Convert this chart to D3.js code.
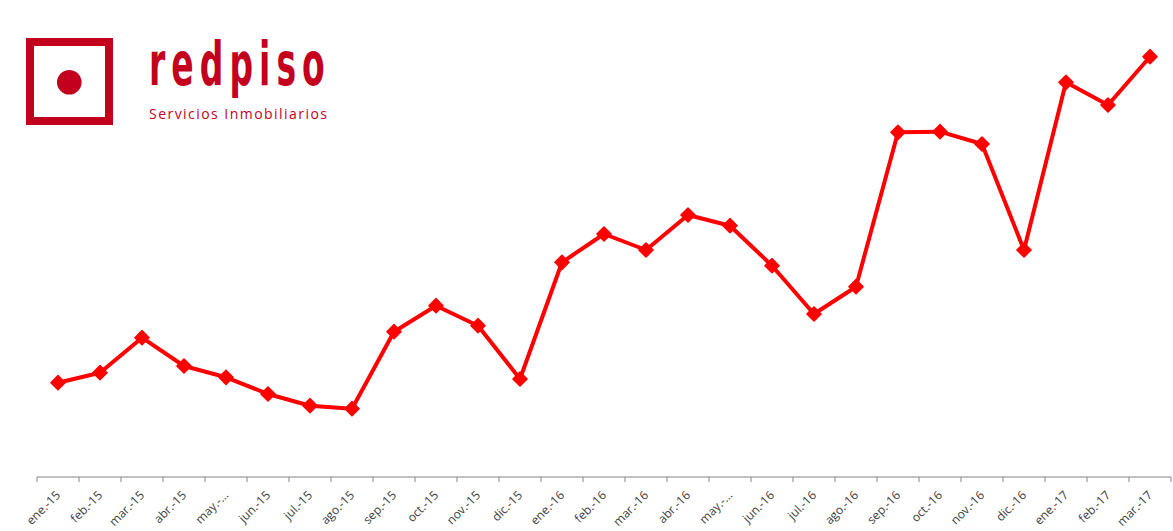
<!DOCTYPE html>
<html>
<head>
<meta charset="utf-8">
<script src="https://cdn.jsdelivr.net/npm/d3@7/dist/d3.min.js"></script>
<style>
  html, body { margin: 0; padding: 0; background: #fff; }
  svg { display: block; }
</style>
</head>
<body>
<svg id="chart" width="1173" height="531"></svg>
<script>
const categories = ["ene.-15","feb.-15","mar.-15","abr.-15","may.-15","jun.-15","jul.-15","ago.-15","sep.-15","oct.-15","nov.-15","dic.-15",
  "ene.-16","feb.-16","mar.-16","abr.-16","may.-16","jun.-16","jul.-16","ago.-16","sep.-16","oct.-16","nov.-16","dic.-16",
  "ene.-17","feb.-17","mar.-17"];
const tickLabels = ["ene.-15","feb.-15","mar.-15","abr.-15","may.-…","jun.-15","jul.-15","ago.-15","sep.-15","oct.-15","nov.-15","dic.-15",
  "ene.-16","feb.-16","mar.-16","abr.-16","may.-…","jun.-16","jul.-16","ago.-16","sep.-16","oct.-16","nov.-16","dic.-16",
  "ene.-17","feb.-17","mar.-17"];
const values = [94.3,104.3,139.3,111,99.7,83,71.3,68.3,145.3,171.3,151.3,98,
  214.7,243,227,262,251.3,211.3,163,190.3,344.7,345.3,333,227,
  394.7,372,420.3];

(function () {
const svg = d3.select("#chart");
const mLeft = 37, mRight = 1171, mBottom = 477, mTop = 57;

const x = d3.scaleBand().domain(categories).range([mLeft, mRight]).padding(0);
const y = d3.scaleLinear().domain([0, 420]).range([mBottom, mTop]);

// axis
const axisG = svg.append("g").attr("transform", `translate(0,${mBottom})`);
axisG.append("line").attr("x1", mLeft).attr("x2", mRight).attr("y1", 0).attr("y2", 0)
  .attr("stroke", "#868686").attr("stroke-width", 1);
const bounds = categories.map(c => x(c)).concat([mRight]);
axisG.selectAll("line.tick").data(bounds).enter().append("line")
  .attr("class", "tick")
  .attr("x1", d => d).attr("x2", d => d).attr("y1", 0).attr("y2", 5)
  .attr("stroke", "#868686").attr("stroke-width", 1);
axisG.selectAll("text").data(categories).enter().append("text")
  .attr("transform", (d) => `translate(${x(d) + x.bandwidth()/2 + 3},19) rotate(-45)`)
  .attr("text-anchor", "end")
  .attr("font-family", "'Open Sans', 'Noto Sans', sans-serif")
  .attr("font-size", 12)
  .attr("fill", "#404040")
  .text((d, i) => tickLabels[i]);

// line
const line = d3.line().x((d, i) => x(categories[i]) + x.bandwidth()/2).y(d => y(d));
svg.append("path").datum(values).attr("d", line)
  .attr("fill", "none").attr("stroke", "#ff0000").attr("stroke-width", 4)
  .attr("stroke-linejoin", "round");

const sym = d3.symbol().type(d3.symbolSquare).size(100);
svg.selectAll("path.pt").data(values).enter().append("path")
  .attr("class", "pt")
  .attr("d", sym)
  .attr("transform", (d, i) => `translate(${x(categories[i]) + x.bandwidth()/2},${y(d)}) rotate(45)`)
  .attr("fill", "#ff0000")
  .attr("stroke", "#ff0000").attr("stroke-width", 1.5).attr("stroke-linejoin", "round");

// logo
const logoColor = "#c4001f";
const logo = svg.append("g");
logo.append("rect").attr("x", 30).attr("y", 42).attr("width", 79).attr("height", 79)
  .attr("fill", "none").attr("stroke", logoColor).attr("stroke-width", 8);
logo.append("circle").attr("cx", 69.3).attr("cy", 82.3).attr("r", 12.3).attr("fill", logoColor);
logo.append("text")
  .attr("transform", "translate(149,85) scale(0.55,1)")
  .attr("font-family", "'DejaVu Sans', sans-serif")
  .attr("font-weight", "bold")
  .attr("font-size", 60)
  .attr("letter-spacing", 11)
  .attr("fill", logoColor)
  .text("redpiso");
logo.append("text")
  .attr("x", 149).attr("y", 118.5)
  .attr("font-family", "'Open Sans', 'DejaVu Sans', sans-serif")
  .attr("font-size", 14)
  .attr("textLength", 178).attr("lengthAdjust", "spacing")
  .attr("fill", logoColor)
  .text("Servicios Inmobiliarios");
})();
</script>
</body>
</html>
